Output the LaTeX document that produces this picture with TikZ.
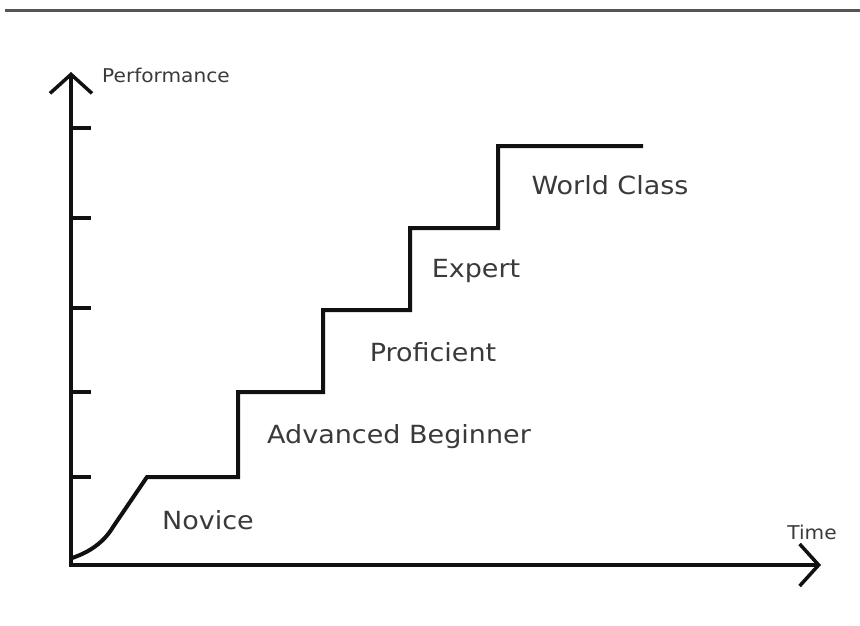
\documentclass[tikz,border=0pt]{standalone}
\usepackage{fontspec}
\setmainfont{DejaVu Sans}
\newfontfamily\levelfont[FakeStretch=1.08]{DejaVu Sans}
\newfontfamily\axisfont[FakeStretch=1.06]{DejaVu Sans}
\usetikzlibrary{arrows.meta}
\definecolor{ink}{HTML}{111111}
\definecolor{labelgray}{HTML}{3A3A3A}
\definecolor{rulegray}{HTML}{555555}
\begin{document}
\begin{tikzpicture}[x=1pt,y=-1pt,
  axisline/.style={draw=ink, line width=4pt, line join=miter,
    {Straight Barb[length=19pt,width=42pt,line width=3.5pt]}-{Straight Barb[length=19pt,width=42pt,line width=3.5pt]}},
  tick/.style={draw=ink, line width=4pt},
  stair/.style={draw=ink, line width=4pt, line join=miter},
  level/.style={text=labelgray, font=\levelfont\fontsize{25}{29}\selectfont, inner sep=0pt},
  axislabel/.style={text=labelgray, font=\axisfont\fontsize{19}{22}\selectfont, inner sep=0pt}
]
\useasboundingbox (0,0) rectangle (860,625);

% header rule
\draw[rulegray, line width=3pt] (5,10) -- (860,10);

% axes
\coordinate (ytop) at (71,72);
\coordinate (origin) at (71,565);
\coordinate (xend) at (821,565);
\draw[axisline] (ytop) -- (origin) -- (xend);

% tick marks on the performance axis
\foreach \ty [count=\i] in {477,392,308,218,128}
  \draw[tick] (69,\ty) coordinate (t\i) -- (91,\ty);

% the staircase of skill levels
\draw[stair] (72,558) .. controls (90,552) and (104,542) .. (113,527)
  -- (147,477) -- (238,477) -- (238,392) -- (323,392) -- (323,310)
  -- (410,310) -- (410,228) -- (498,228) -- (498,146) -- (643,146);

% axis labels
\node[axislabel] (perf) at (166,75) {Performance};
\node[axislabel] (time) at (812,532) {Time};

% level labels
\node[level] (novice) at (208,520) {Novice};
\node[level] (advbeg) at (399,437) {Advanced Beginner};
\node[level] (prof) at (433,352) {Proficient};
\node[level] (expert) at (476,271) {Expert};
\node[level] (world) at (610,185) {World Class};
\end{tikzpicture}
\end{document}
